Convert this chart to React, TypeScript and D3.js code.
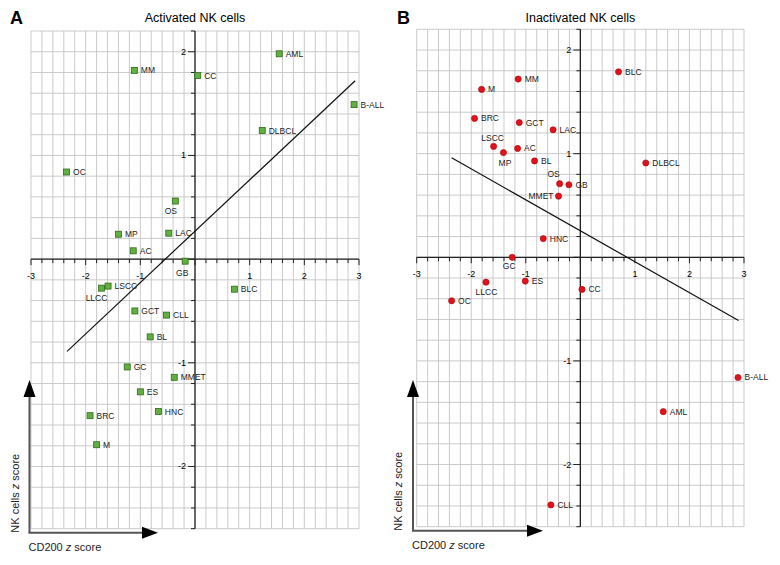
import React from "react";
import * as d3 from "d3";

// ---- Data ----
const categoriesA = ["AML","MM","CC","B-ALL","DLBCL","OC","OS","MP","LAC","AC","GB","LLCC","LSCC","BLC","GCT","CLL","BL","GC","MMET","ES","HNC","BRC","M"];
const xA = [1.54,-1.11,0.05,2.91,1.23,-2.35,-0.36,-1.40,-0.48,-1.13,-0.18,-1.71,-1.59,0.72,-1.10,-0.52,-0.82,-1.24,-0.38,-1.00,-0.67,-1.92,-1.80];
const yA = [1.98,1.82,1.77,1.49,1.24,0.84,0.56,0.24,0.25,0.08,-0.02,-0.28,-0.26,-0.29,-0.50,-0.54,-0.75,-1.04,-1.14,-1.28,-1.47,-1.51,-1.79];
const fitA = [[-2.34,-0.89],[2.93,1.72]];

const categoriesB = ["BLC","MM","M","BRC","GCT","LAC","LSCC","AC","MP","BL","DLBCL","OS","GB","MMET","HNC","GC","LLCC","ES","OC","CC","B-ALL","AML","CLL"];
const xB = [0.70,-1.14,-1.81,-1.94,-1.12,-0.50,-1.59,-1.15,-1.41,-0.84,1.20,-0.38,-0.21,-0.40,-0.68,-1.25,-1.73,-1.01,-2.36,0.03,2.89,1.52,-0.54];
const yB = [1.79,1.72,1.62,1.34,1.30,1.23,1.07,1.05,1.01,0.93,0.91,0.71,0.70,0.59,0.18,0.00,-0.24,-0.23,-0.42,-0.31,-1.16,-1.49,-2.39];
const fitB = [[-2.36,0.96],[2.90,-0.61]];

const xTicks = [-3,-2,-1,1,2,3];
const yTicks = [2,1,-1,-2];
const xDomain = [-3,3];
const yDomain = [2.2,-2.6];

// label placement overrides: [dx, dy, anchor]
const labelPosA: Record<string,[number,number,string]> = {
  OS: [-4.5, 13, "middle"],
  GB: [-3, 15, "middle"],
  LLCC: [-5, 13, "middle"],
};
const labelPosB: Record<string,[number,number,string]> = {
  LSCC: [-1, -5, "middle"],
  MP: [1.5, 13, "middle"],
  OS: [-6, -7, "middle"],
  MMET: [-5, 3, "end"],
  GC: [-3, 12, "middle"],
  LLCC: [0.5, 12.5, "middle"],
};

const FONT = "Liberation Sans, Arial, Helvetica, sans-serif";

function Panel(props: {
  x0: number; x1: number; y0: number; y1: number;
  cats: string[]; xs: number[]; ys: number[]; fit: number[][];
  pos: Record<string,[number,number,string]>;
  kind: "square" | "circle";
  title: string; letter: string; letterX: number;
  arrowX: number; arrowEnd: number;
}) {
  const { x0, x1, y0, y1, cats, xs, ys, fit, pos, kind } = props;
  const x = d3.scaleLinear().domain(xDomain).range([x0, x1]);
  const y = d3.scaleLinear().domain(yDomain).range([y0, y1]);
  const gridX = d3.range(0, 31).map(i => -3 + i * 0.2);
  const gridY = d3.range(0, 25).map(i => -2.6 + i * 0.2);
  const zx = x(0), zy = y(0);
  const line = d3.line<number[]>().x(d => x(d[0])).y(d => y(d[1]));
  const midX = (x0 + x1) / 2;
  const arrowBottom = y1 + 4;
  return (
    <g>
      <text x={props.letterX} y={24} fontFamily={FONT} fontWeight="bold" fontSize={18}>{props.letter}</text>
      <text x={midX} y={22} textAnchor="middle" fontFamily={FONT} fontSize={12.5}>{props.title}</text>
      {gridX.map((v, i) => (
        <line key={"gx" + i} x1={x(v)} x2={x(v)} y1={y0} y2={y1} stroke="#c4c4c4" strokeWidth={0.9} />
      ))}
      {gridY.map((v, i) => (
        <line key={"gy" + i} x1={x0} x2={x1} y1={y(v)} y2={y(v)} stroke="#c4c4c4" strokeWidth={0.9} />
      ))}
      {/* axes */}
      <line x1={x0} x2={x1} y1={zy} y2={zy} stroke="#222" strokeWidth={1.3} />
      <line x1={zx} x2={zx} y1={y0} y2={y1} stroke="#222" strokeWidth={1.3} />
      {gridX.map((v, i) => {
        const major = Math.abs(v - Math.round(v)) < 1e-6;
        return <line key={"tx" + i} x1={x(v)} x2={x(v)} y1={zy} y2={zy + (major ? 6 : 4)} stroke="#222" strokeWidth={1} />;
      })}
      {gridY.map((v, i) => {
        const major = Math.abs(v - Math.round(v)) < 1e-6;
        return <line key={"ty" + i} x1={zx - (major ? 7 : 4)} x2={zx} y1={y(v)} y2={y(v)} stroke="#222" strokeWidth={1} />;
      })}
      {xTicks.map(v => (
        <text key={"lx" + v} x={x(v)} y={zy + 20} textAnchor="middle" fontFamily={FONT} fontSize={9}>{v}</text>
      ))}
      {yTicks.map(v => (
        <text key={"ly" + v} x={zx - 9} y={y(v) + 3} textAnchor="end" fontFamily={FONT} fontSize={9}>{v}</text>
      ))}
      {/* regression line */}
      <path d={line(fit) || ""} stroke="#111" strokeWidth={1.2} fill="none" />
      {/* points */}
      {cats.map((c, i) => {
        const px = x(xs[i]), py = y(ys[i]);
        const p = pos[c] || [6.5, 3, "start"];
        return (
          <g key={c}>
            {kind === "square" ? (
              <rect x={px - 3} y={py - 3} width={6} height={6} fill="#62b041" stroke="#2f6a1c" strokeWidth={0.8} />
            ) : (
              <circle cx={px} cy={py} r={3.1} fill="#e2121b" stroke="#a8070d" strokeWidth={0.6} />
            )}
            <text x={px + p[0]} y={py + p[1]} textAnchor={p[2] as any} fontFamily={FONT} fontSize={8.5} fill="#222">{c}</text>
          </g>
        );
      })}
      {/* corner arrows */}
      <line x1={props.arrowX} x2={props.arrowX} y1={arrowBottom} y2={380 + 15} stroke="#555" strokeWidth={2} />
      <path d={`M${props.arrowX},380 L${props.arrowX - 6},397 L${props.arrowX + 6},397 Z`} fill="#000" />
      <line x1={props.arrowX - 1} x2={props.arrowEnd - 14} y1={arrowBottom} y2={arrowBottom} stroke="#555" strokeWidth={2} />
      <path d={`M${props.arrowEnd},${arrowBottom} L${props.arrowEnd - 16},${arrowBottom - 6} L${props.arrowEnd - 16},${arrowBottom + 6} Z`} fill="#000" />
      <text transform={`translate(${props.arrowX - 11},${arrowBottom}) rotate(-90)`} fontFamily={FONT} fontSize={11} fill="#222">
        NK cells <tspan fontStyle="italic">z</tspan> score
      </text>
      <text x={props.arrowX - 1} y={arrowBottom + 18} fontFamily={FONT} fontSize={11} fill="#222">
        CD200 <tspan fontStyle="italic">z</tspan> score
      </text>
    </g>
  );
}

export default function App() {
  return (
    <svg width={780} height={565} style={{ position: "absolute", left: 0, top: 0, background: "#fff" }}>
      <rect width={780} height={565} fill="#fff" />
      <Panel x0={31} x1={359} y0={31} y1={528.7} cats={categoriesA} xs={xA} ys={yA} fit={fitA} pos={labelPosA}
        kind="square" title="Activated NK cells" letter="A" letterX={10} arrowX={29.5} arrowEnd={158} />
      <Panel x0={416.7} x1={744} y0={29.3} y1={526.7} cats={categoriesB} xs={xB} ys={yB} fit={fitB} pos={labelPosB}
        kind="circle" title="Inactivated NK cells" letter="B" letterX={397} arrowX={413} arrowEnd={543} />
    </svg>
  );
}
